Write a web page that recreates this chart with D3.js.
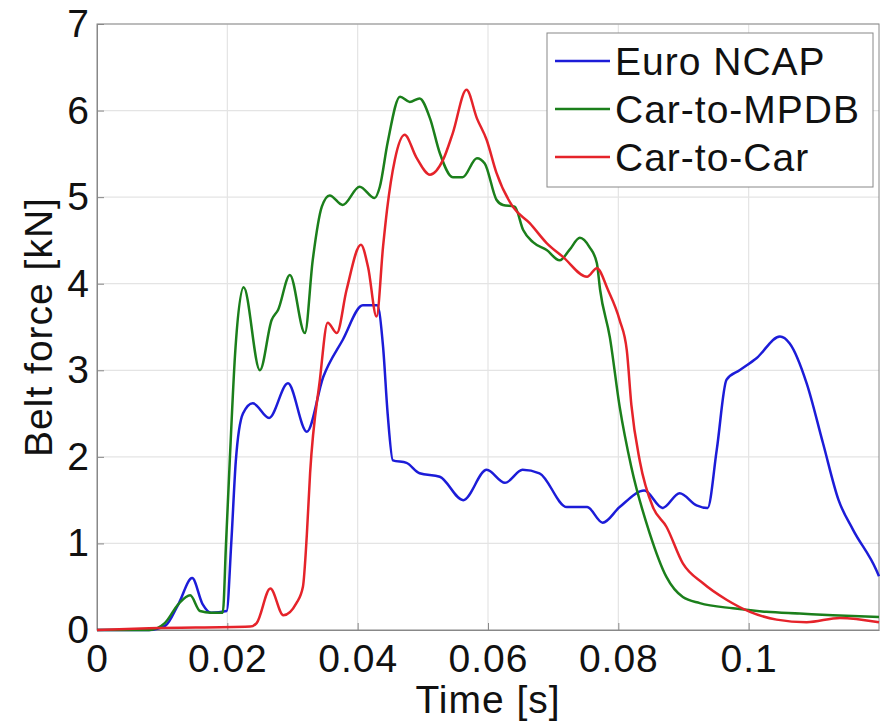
<!DOCTYPE html>
<html>
<head>
<meta charset="utf-8">
<script src="https://cdn.jsdelivr.net/npm/d3@7"></script>
<style>
  body { margin: 0; background: #fff; }
  svg { font-family: "Liberation Sans", Arial, sans-serif; }
</style>
</head>
<body>
<svg id="chart" width="881" height="723"></svg>
<script>
"use strict";

// Belt force traces (time in s, force in kN)
var seriesNames = ["Euro NCAP", "Car-to-MPDB", "Car-to-Car"];

var euroTime = [0, 0.008, 0.0105, 0.0125, 0.0146, 0.0162, 0.0175, 0.0199, 0.0206, 0.0213, 0.0224, 0.0239, 0.0264, 0.0293, 0.0322, 0.0347, 0.0377, 0.0408, 0.043, 0.0439, 0.0446, 0.0454, 0.0475, 0.0495, 0.0526, 0.0562, 0.0598, 0.0626, 0.0653, 0.0679, 0.0721, 0.0752, 0.0776, 0.0802, 0.084, 0.0868, 0.0894, 0.092, 0.0937, 0.0951, 0.0966, 0.0986, 0.1012, 0.1048, 0.1063, 0.1089, 0.1114, 0.1138, 0.116, 0.1196, 0.12];
var euroForce = [0, 0, 0.05, 0.3, 0.6, 0.3, 0.2, 0.22, 1.0, 1.95, 2.5, 2.62, 2.45, 2.85, 2.29, 2.92, 3.35, 3.75, 3.75, 3.27, 2.5, 1.96, 1.93, 1.81, 1.77, 1.5, 1.85, 1.7, 1.85, 1.81, 1.42, 1.42, 1.24, 1.42, 1.61, 1.41, 1.58, 1.44, 1.41, 2.08, 2.89, 3.0, 3.14, 3.39, 3.31, 2.85, 2.16, 1.5, 1.16, 0.69, 0.62];

var mpdbTime = [0, 0.008, 0.0104, 0.0125, 0.0143, 0.0158, 0.0175, 0.0193, 0.0198, 0.0204, 0.0212, 0.0225, 0.025, 0.0268, 0.0278, 0.0296, 0.0319, 0.0331, 0.0345, 0.0357, 0.0377, 0.0403, 0.0426, 0.0434, 0.0446, 0.0465, 0.048, 0.0495, 0.0511, 0.0526, 0.0546, 0.0561, 0.0583, 0.0595, 0.0613, 0.0623, 0.0641, 0.0654, 0.0669, 0.069, 0.071, 0.0725, 0.0741, 0.0756, 0.0767, 0.0772, 0.0787, 0.0802, 0.082, 0.0848, 0.0874, 0.0899, 0.0925, 0.0976, 0.1027, 0.1078, 0.1129, 0.12];
var mpdbForce = [0, 0, 0.08, 0.3, 0.4, 0.22, 0.2, 0.2, 1.0, 2.0, 3.2, 3.96, 3.0, 3.58, 3.7, 4.1, 3.43, 4.27, 4.89, 5.02, 4.91, 5.12, 4.99, 5.12, 5.63, 6.16, 6.1, 6.14, 5.91, 5.51, 5.23, 5.23, 5.45, 5.39, 4.97, 4.91, 4.89, 4.62, 4.48, 4.39, 4.27, 4.39, 4.53, 4.42, 4.24, 3.93, 3.38, 2.58, 1.88, 1.12, 0.61, 0.38, 0.31, 0.25, 0.21, 0.19, 0.17, 0.15];

var c2cTime = [0, 0.008, 0.0235, 0.0245, 0.0266, 0.0286, 0.0306, 0.0316, 0.0322, 0.0327, 0.0342, 0.0354, 0.0368, 0.0383, 0.0405, 0.0416, 0.0429, 0.0439, 0.0445, 0.0457, 0.0472, 0.049, 0.0511, 0.0531, 0.0546, 0.0567, 0.0583, 0.0598, 0.0613, 0.0638, 0.0664, 0.069, 0.0715, 0.0752, 0.0767, 0.0784, 0.0802, 0.0813, 0.082, 0.0833, 0.0853, 0.0874, 0.0899, 0.093, 0.0966, 0.1002, 0.1043, 0.1089, 0.114, 0.12];
var c2cForce = [0, 0.02, 0.04, 0.08, 0.48, 0.17, 0.31, 0.5, 1.1, 1.81, 2.89, 3.55, 3.43, 3.93, 4.45, 4.19, 3.62, 4.43, 4.85, 5.43, 5.72, 5.46, 5.26, 5.43, 5.74, 6.24, 5.91, 5.66, 5.28, 4.89, 4.7, 4.47, 4.31, 4.08, 4.18, 3.93, 3.58, 3.23, 2.6, 1.95, 1.42, 1.19, 0.77, 0.54, 0.35, 0.21, 0.12, 0.09, 0.14, 0.09];

var xTicks = [0, 0.02, 0.04, 0.06, 0.08, 0.1];
var xTickLabels = ["0", "0.02", "0.04", "0.06", "0.08", "0.1"];
var yTicks = [0, 1, 2, 3, 4, 5, 6, 7];
var yTickLabels = ["0", "1", "2", "3", "4", "5", "6", "7"];

var colors = ["#1c1cd8", "#1b7f1b", "#e5232a"];
var fontSize = "39px";

var svg = d3.select("#chart");
var plot = { left: 97, right: 879, top: 24, bottom: 630 };

var x = d3.scaleLinear().domain([0, 0.12]).range([plot.left, plot.right]);
var y = d3.scaleLinear().domain([0, 7]).range([plot.bottom, plot.top]);

// grid
svg.append("g").selectAll("line").data(xTicks.slice(1))
  .enter().append("line")
  .attr("x1", function(d) { return x(d); }).attr("x2", function(d) { return x(d); })
  .attr("y1", plot.top).attr("y2", plot.bottom)
  .attr("stroke", "#e4e4e4").attr("stroke-width", 1.2);
svg.append("g").selectAll("line").data(yTicks.slice(1))
  .enter().append("line")
  .attr("x1", plot.left).attr("x2", plot.right)
  .attr("y1", function(d) { return y(d); }).attr("y2", function(d) { return y(d); })
  .attr("stroke", "#e4e4e4").attr("stroke-width", 1.2);

// axes
var xAxis = svg.append("g")
  .attr("transform", "translate(0," + plot.bottom + ")")
  .call(d3.axisBottom(x).tickValues(xTicks)
    .tickFormat(function(d, i) { return xTickLabels[i]; })
    .tickSizeInner(-7).tickSizeOuter(0).tickPadding(14));
var yAxis = svg.append("g")
  .attr("transform", "translate(" + plot.left + ",0)")
  .call(d3.axisLeft(y).tickValues(yTicks)
    .tickFormat(function(d, i) { return yTickLabels[i]; })
    .tickSizeInner(-7).tickSizeOuter(0).tickPadding(7));

[xAxis, yAxis].forEach(function(a) {
  a.select(".domain").attr("stroke", "#888");
  a.selectAll(".tick line").attr("stroke", "#888");
  a.selectAll(".tick text").attr("font-size", fontSize).attr("fill", "#111")
    .attr("letter-spacing", "1px")
    .attr("font-family", "Liberation Sans, Arial, sans-serif");
});

// box
svg.append("rect")
  .attr("x", plot.left).attr("y", plot.top)
  .attr("width", plot.right - plot.left).attr("height", plot.bottom - plot.top)
  .attr("fill", "none").attr("stroke", "#888").attr("stroke-width", 1);

// curves
var series = [
  { time: euroTime, force: euroForce },
  { time: mpdbTime, force: mpdbForce },
  { time: c2cTime, force: c2cForce }
];
var line = d3.line()
  .x(function(d) { return x(d[0]); })
  .y(function(d) { return y(d[1]); })
  .curve(d3.curveMonotoneX);

series.forEach(function(s, i) {
  svg.append("path")
    .datum(d3.zip(s.time, s.force))
    .attr("d", line)
    .attr("fill", "none")
    .attr("stroke", colors[i])
    .attr("stroke-width", 2.5)
    .attr("stroke-linejoin", "round");
});

// legend
var legend = svg.append("g");
legend.append("rect")
  .attr("x", 547).attr("y", 33).attr("width", 326).attr("height", 154)
  .attr("fill", "#fff").attr("stroke", "#888");
seriesNames.forEach(function(name, i) {
  var cy = 61 + i * 48;
  legend.append("line")
    .attr("x1", 555).attr("x2", 610).attr("y1", cy).attr("y2", cy)
    .attr("stroke", colors[i]).attr("stroke-width", 2.5);
  legend.append("text")
    .attr("x", 615).attr("y", cy + 14)
    .attr("font-size", fontSize).attr("letter-spacing", "1px").attr("fill", "#111")
    .text(name);
});

// axis titles
svg.append("text")
  .attr("x", (plot.left + plot.right) / 2).attr("y", 713)
  .attr("text-anchor", "middle")
  .attr("font-size", fontSize).attr("letter-spacing", "1px").attr("fill", "#111")
  .text("Time [s]");
svg.append("text")
  .attr("transform", "translate(52," + (plot.top + plot.bottom) / 2 + ") rotate(-90)")
  .attr("text-anchor", "middle")
  .attr("font-size", fontSize).attr("letter-spacing", "1px").attr("fill", "#111")
  .text("Belt force [kN]");
</script>
</body>
</html>
